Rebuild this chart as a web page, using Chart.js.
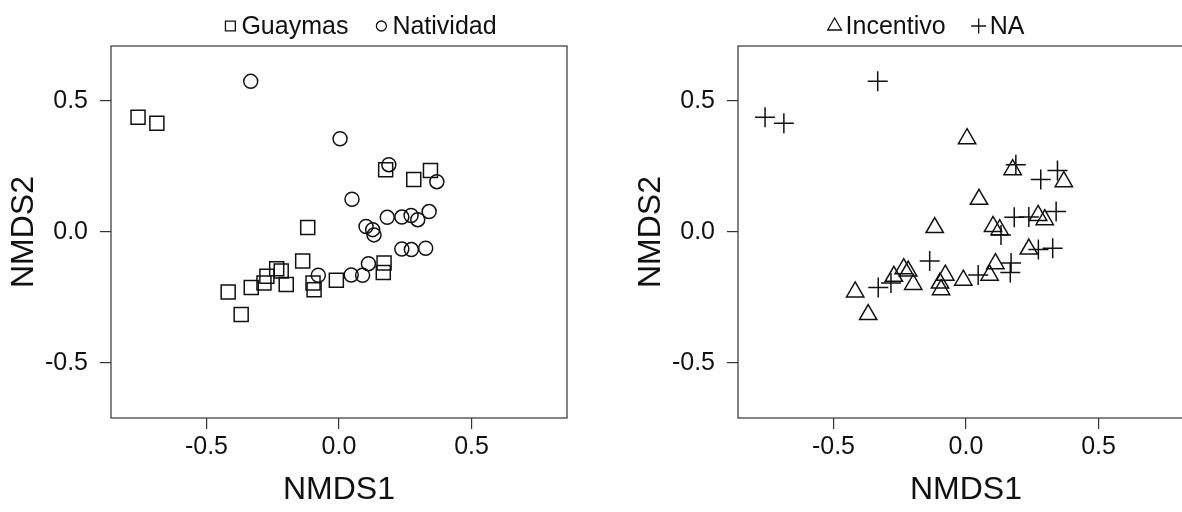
<!DOCTYPE html>
<html>
<head>
<meta charset="utf-8">
<script src="https://cdn.jsdelivr.net/npm/chart.js@4.4.1/dist/chart.umd.min.js"></script>
<style>
  html, body { margin: 0; padding: 0; background: #fff; overflow: hidden; }
  body { width: 1182px; height: 512px; position: relative; }
  .panel { position: absolute; top: 0; width: 591px; height: 512px; }
  #left { left: 0; }
  #right { left: 627px; }
</style>
</head>
<body>
<div class="panel" id="left"><canvas id="c1" width="591" height="512"></canvas></div>
<div class="panel" id="right"><canvas id="c2" width="591" height="512"></canvas></div>
<script>
// NMDS scores, one entry per sample (same points in both panels)
const nmds1 = [-0.758, -0.687, -0.418, -0.369, -0.331, -0.283, -0.272, -0.235, -0.218, -0.199,
               -0.137, -0.118, -0.098, -0.094, -0.010, 0.176, 0.282, 0.345, 0.170, 0.167,
               -0.333, -0.078, 0.004, 0.188, 0.369, 0.049, 0.102, 0.127, 0.132, 0.182,
               0.237, 0.272, 0.297, 0.340, 0.237, 0.273, 0.327, 0.046, 0.089, 0.111];
const nmds2 = [0.438, 0.415, -0.229, -0.315, -0.212, -0.195, -0.169, -0.140, -0.149, -0.200,
               -0.111, 0.017, -0.195, -0.220, -0.184, 0.238, 0.200, 0.235, -0.118, -0.155,
               0.575, -0.165, 0.356, 0.257, 0.192, 0.125, 0.021, 0.009, -0.011, 0.056,
               0.057, 0.063, 0.047, 0.078, -0.065, -0.067, -0.062, -0.164, -0.165, -0.121];
const site = ["Guaymas", "Guaymas", "Guaymas", "Guaymas", "Guaymas", "Guaymas", "Guaymas", "Guaymas", "Guaymas", "Guaymas",
              "Guaymas", "Guaymas", "Guaymas", "Guaymas", "Guaymas", "Guaymas", "Guaymas", "Guaymas", "Guaymas", "Guaymas",
              "Natividad", "Natividad", "Natividad", "Natividad", "Natividad", "Natividad", "Natividad", "Natividad", "Natividad", "Natividad",
              "Natividad", "Natividad", "Natividad", "Natividad", "Natividad", "Natividad", "Natividad", "Natividad", "Natividad", "Natividad"];
const treatment = ["NA", "NA", "Incentivo", "Incentivo", "NA", "NA", "Incentivo", "Incentivo", "Incentivo", "Incentivo",
                   "NA", "Incentivo", "Incentivo", "Incentivo", "Incentivo", "Incentivo", "NA", "NA", "NA", "NA",
                   "NA", "Incentivo", "Incentivo", "NA", "Incentivo", "Incentivo", "Incentivo", "Incentivo", "NA", "NA",
                   "NA", "Incentivo", "Incentivo", "NA", "Incentivo", "NA", "NA", "NA", "Incentivo", "Incentivo"];
const sites = ["Guaymas", "Natividad"];
const treatments = ["Incentivo", "NA"];
const xTicks = [-0.5, 0, 0.5];
const yTicks = [-0.5, 0, 0.5];

const FONT = '"Liberation Sans", Arial, Helvetica, sans-serif';
const INK = '#111';

// marker style per group
const markers = {
  Guaymas:   { pointStyle: 'rect',     radius: 9.9, legendR: 7 },
  Natividad: { pointStyle: 'circle',   radius: 7,   legendR: 5 },
  Incentivo: { pointStyle: 'triangle', radius: 10,  legendR: 8 },
  NA:        { pointStyle: 'cross',    radius: 10,  legendR: 7.5 }
};

function pick(groupArr, name) {
  const pts = [];
  for (let i = 0; i < nmds1.length; i++) {
    if (groupArr[i] === name) pts.push({ x: nmds1[i], y: nmds2[i] });
  }
  return pts;
}

function makeDatasets(groupArr, names) {
  return names.map(name => ({
    label: name,
    data: pick(groupArr, name),
    pointStyle: markers[name].pointStyle,
    pointRadius: markers[name].radius,
    pointBorderWidth: 1.5,
    pointBorderColor: INK,
    pointBackgroundColor: 'rgba(0,0,0,0)',
    showLine: false
  }));
}

// full box around the plot region, like R's box()
const boxPlugin = {
  id: 'rbox',
  afterDraw(chart) {
    const { ctx, chartArea: a } = chart;
    ctx.save();
    ctx.strokeStyle = '#333';
    ctx.lineWidth = 1.2;
    ctx.strokeRect(a.left, a.top, a.right - a.left, a.bottom - a.top);
    ctx.restore();
  }
};

// compact R-style legend above the box
const legendPlugin = {
  id: 'rlegend',
  afterDraw(chart, args, opts) {
    const ctx = chart.ctx;
    ctx.save();
    ctx.font = '25px ' + FONT;
    ctx.textBaseline = 'alphabetic';
    const symW = 14, gapSym = 4, gapItem = 26;
    const widths = opts.items.map(n => symW + gapSym + ctx.measureText(n).width);
    const total = widths.reduce((s, w) => s + w, 0) + gapItem * (opts.items.length - 1);
    let x = opts.center - total / 2;
    opts.items.forEach((n, i) => {
      ctx.strokeStyle = INK;
      ctx.fillStyle = 'rgba(0,0,0,0)';
      ctx.lineWidth = 1.3;
      Chart.helpers.drawPoint(ctx, { pointStyle: markers[n].pointStyle, radius: markers[n].legendR, borderWidth: 1.3, rotation: 0 },
        x + symW / 2, opts.y - 8);
      ctx.fillStyle = INK;
      ctx.fillText(n, x + symW + gapSym, opts.y);
      x += widths[i] + gapItem;
    });
    ctx.restore();
  }
};

function makeChart(id, groupArr, names, legendCenter) {
  return new Chart(document.getElementById(id), {
    type: 'scatter',
    data: { datasets: makeDatasets(groupArr, names) },
    plugins: [boxPlugin, legendPlugin],
    options: {
      responsive: false,
      animation: false,
      events: [],
      layout: { padding: { top: 46, right: 24, bottom: 0, left: 0 } },
      plugins: {
        legend: { display: false },
        tooltip: { enabled: false },
        rlegend: { items: names, center: legendCenter, y: 34 }
      },
      scales: {
        x: {
          type: 'linear',
          min: -0.86,
          max: 0.86,
          afterBuildTicks: s => { s.ticks = xTicks.map(v => ({ value: v })); },
          afterFit: s => { s.height = 94; },
          grid: { display: true, drawOnChartArea: false, drawTicks: true, tickLength: 11, color: '#333', lineWidth: 1.2 },
          border: { display: false },
          ticks: { font: { size: 25, family: FONT }, color: INK, padding: 3, maxRotation: 0,
                   callback: v => Number(v).toFixed(1) },
          title: { display: true, text: 'NMDS1', font: { size: 32, family: FONT }, color: INK,
                   padding: { top: 0, bottom: 3 } }
        },
        y: {
          type: 'linear',
          min: -0.71,
          max: 0.71,
          afterBuildTicks: s => { s.ticks = yTicks.map(v => ({ value: v })); },
          afterFit: s => { s.width = 111; },
          grid: { display: true, drawOnChartArea: false, drawTicks: true, tickLength: 11, color: '#333', lineWidth: 1.2 },
          border: { display: false },
          ticks: { font: { size: 25, family: FONT }, color: INK, padding: 12,
                   callback: v => Number(v).toFixed(1) },
          title: { display: true, text: 'NMDS2', font: { size: 32, family: FONT }, color: INK,
                   padding: { top: 5, bottom: 0 } }
        }
      }
    }
  });
}

makeChart('c1', site, sites, 360);
makeChart('c2', treatment, treatments, 299);
</script>
</body>
</html>
